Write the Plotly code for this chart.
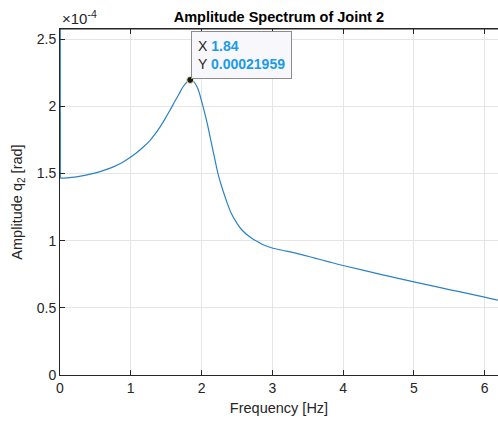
import plotly.graph_objects as go

# Frequency [Hz] and amplitude [rad]
freq = [0, 0.005, 0.1, 0.21, 0.35, 0.49, 0.63, 0.77, 0.88, 1.0, 1.1, 1.2, 1.27, 1.34, 1.41,
        1.48, 1.55, 1.62, 1.68, 1.74, 1.79, 1.84, 1.89, 1.95, 2.0, 2.05, 2.09, 2.16, 2.23,
        2.28, 2.33, 2.42, 2.5, 2.57, 2.71, 2.8, 2.88, 3.0, 3.2, 3.4, 3.6, 3.8, 4.0, 4.5,
        5.0, 5.5, 6.0, 6.19]
amp_e4 = [6.0, 1.465, 1.467, 1.472, 1.485, 1.502, 1.525, 1.553, 1.582, 1.622, 1.662, 1.708,
          1.745, 1.79, 1.843, 1.902, 1.966, 2.033, 2.09, 2.145, 2.178, 2.1959, 2.183, 2.128,
          2.04, 1.94, 1.85, 1.676, 1.505, 1.41, 1.33, 1.204, 1.13, 1.079, 1.017, 0.99,
          0.967, 0.945, 0.922, 0.898, 0.87, 0.842, 0.815, 0.753, 0.693, 0.636, 0.58, 0.557]
amp = [v * 1e-4 for v in amp_e4]

peak_x = 1.84
peak_y = 0.00021959

x_ticks = [0, 1, 2, 3, 4, 5, 6]
y_tick_vals = [0, 0.5e-4, 1e-4, 1.5e-4, 2e-4, 2.5e-4]
y_tick_text = ["0", "0.5", "1", "1.5", "2", "2.5"]

FONT = "Liberation Sans, Arial, Helvetica, sans-serif"
AX = "#262626"
GRID = "#e5e5e5"
LINE = "#2b83c3"

fig = go.Figure()
# DC component (vertical segment at 0 Hz)
fig.add_trace(go.Scatter(x=freq[:2], y=amp[:2], mode="lines",
                         line=dict(color=LINE, width=1.2),
                         hoverinfo="skip", showlegend=False))
# Remainder of the spectrum
fig.add_trace(go.Scatter(x=freq[1:], y=amp[1:], mode="lines",
                         line=dict(color=LINE, width=1.2, shape="spline", smoothing=1.0),
                         hoverinfo="skip", showlegend=False))
fig.add_trace(go.Scatter(x=[peak_x], y=[peak_y], mode="markers",
                         marker=dict(color="#1a1a1a", size=7,
                                     line=dict(color="#f2f0b0", width=1)),
                         hoverinfo="skip", showlegend=False))

fig.update_layout(
    width=498, height=422,
    margin=dict(l=60, r=0, t=29, b=47),
    plot_bgcolor="white", paper_bgcolor="white",
    font=dict(family=FONT, size=14, color=AX),
    showlegend=False,
    title=dict(text="<b>Amplitude Spectrum of Joint 2</b>", x=0.56, xanchor="center",
               y=0.96, yanchor="middle", font=dict(size=14.5, color="#000000")),
    xaxis=dict(range=[0, 6.19], tickvals=x_ticks, ticks="inside", ticklen=5,
               tickcolor=AX, showline=True, linecolor=AX, linewidth=1, mirror="ticks",
               showgrid=True, gridcolor=GRID, gridwidth=1, zeroline=False,
               tickfont=dict(size=14, color=AX),
               title=dict(text="Frequency [Hz]", font=dict(size=14.5, color=AX), standoff=8)),
    yaxis=dict(range=[0, 2.575e-4], tickvals=y_tick_vals, ticktext=y_tick_text,
               ticks="inside", ticklen=5, tickcolor=AX, showline=True, linecolor=AX,
               linewidth=1, showgrid=True, gridcolor=GRID, gridwidth=1, zeroline=False,
               tickfont=dict(size=14, color=AX),
               title=dict(text="Amplitude q<sub>2</sub> [rad]", font=dict(size=14.5, color=AX),
                          standoff=10)),
)

# Top border line (MATLAB box)
fig.add_shape(type="line", xref="paper", yref="paper", x0=0, x1=1, y0=1, y1=1,
              line=dict(color=AX, width=1))

# Exponent label
fig.add_annotation(text="×10<sup>-4</sup>", xref="paper", yref="paper", x=0, y=1,
                   xanchor="left", yanchor="bottom", showarrow=False, yshift=0,
                   font=dict(size=15, color=AX))

# Data tip
blue = "#1a9be8"
fig.add_annotation(
    x=peak_x, y=peak_y, xref="x", yref="y", xanchor="left", yanchor="bottom",
    showarrow=False, align="left", xshift=1, yshift=1,
    text=(f"X <b><span style='color:{blue}'>{peak_x:.2f}</span></b><br>"
          f"Y <b><span style='color:{blue}'>{peak_y:.8f}</span></b>"),
    font=dict(size=14, color=AX), bgcolor="#f8f8fc", bordercolor="#8c8c8c",
    borderwidth=1, borderpad=6)

fig.write_html("out.html")
